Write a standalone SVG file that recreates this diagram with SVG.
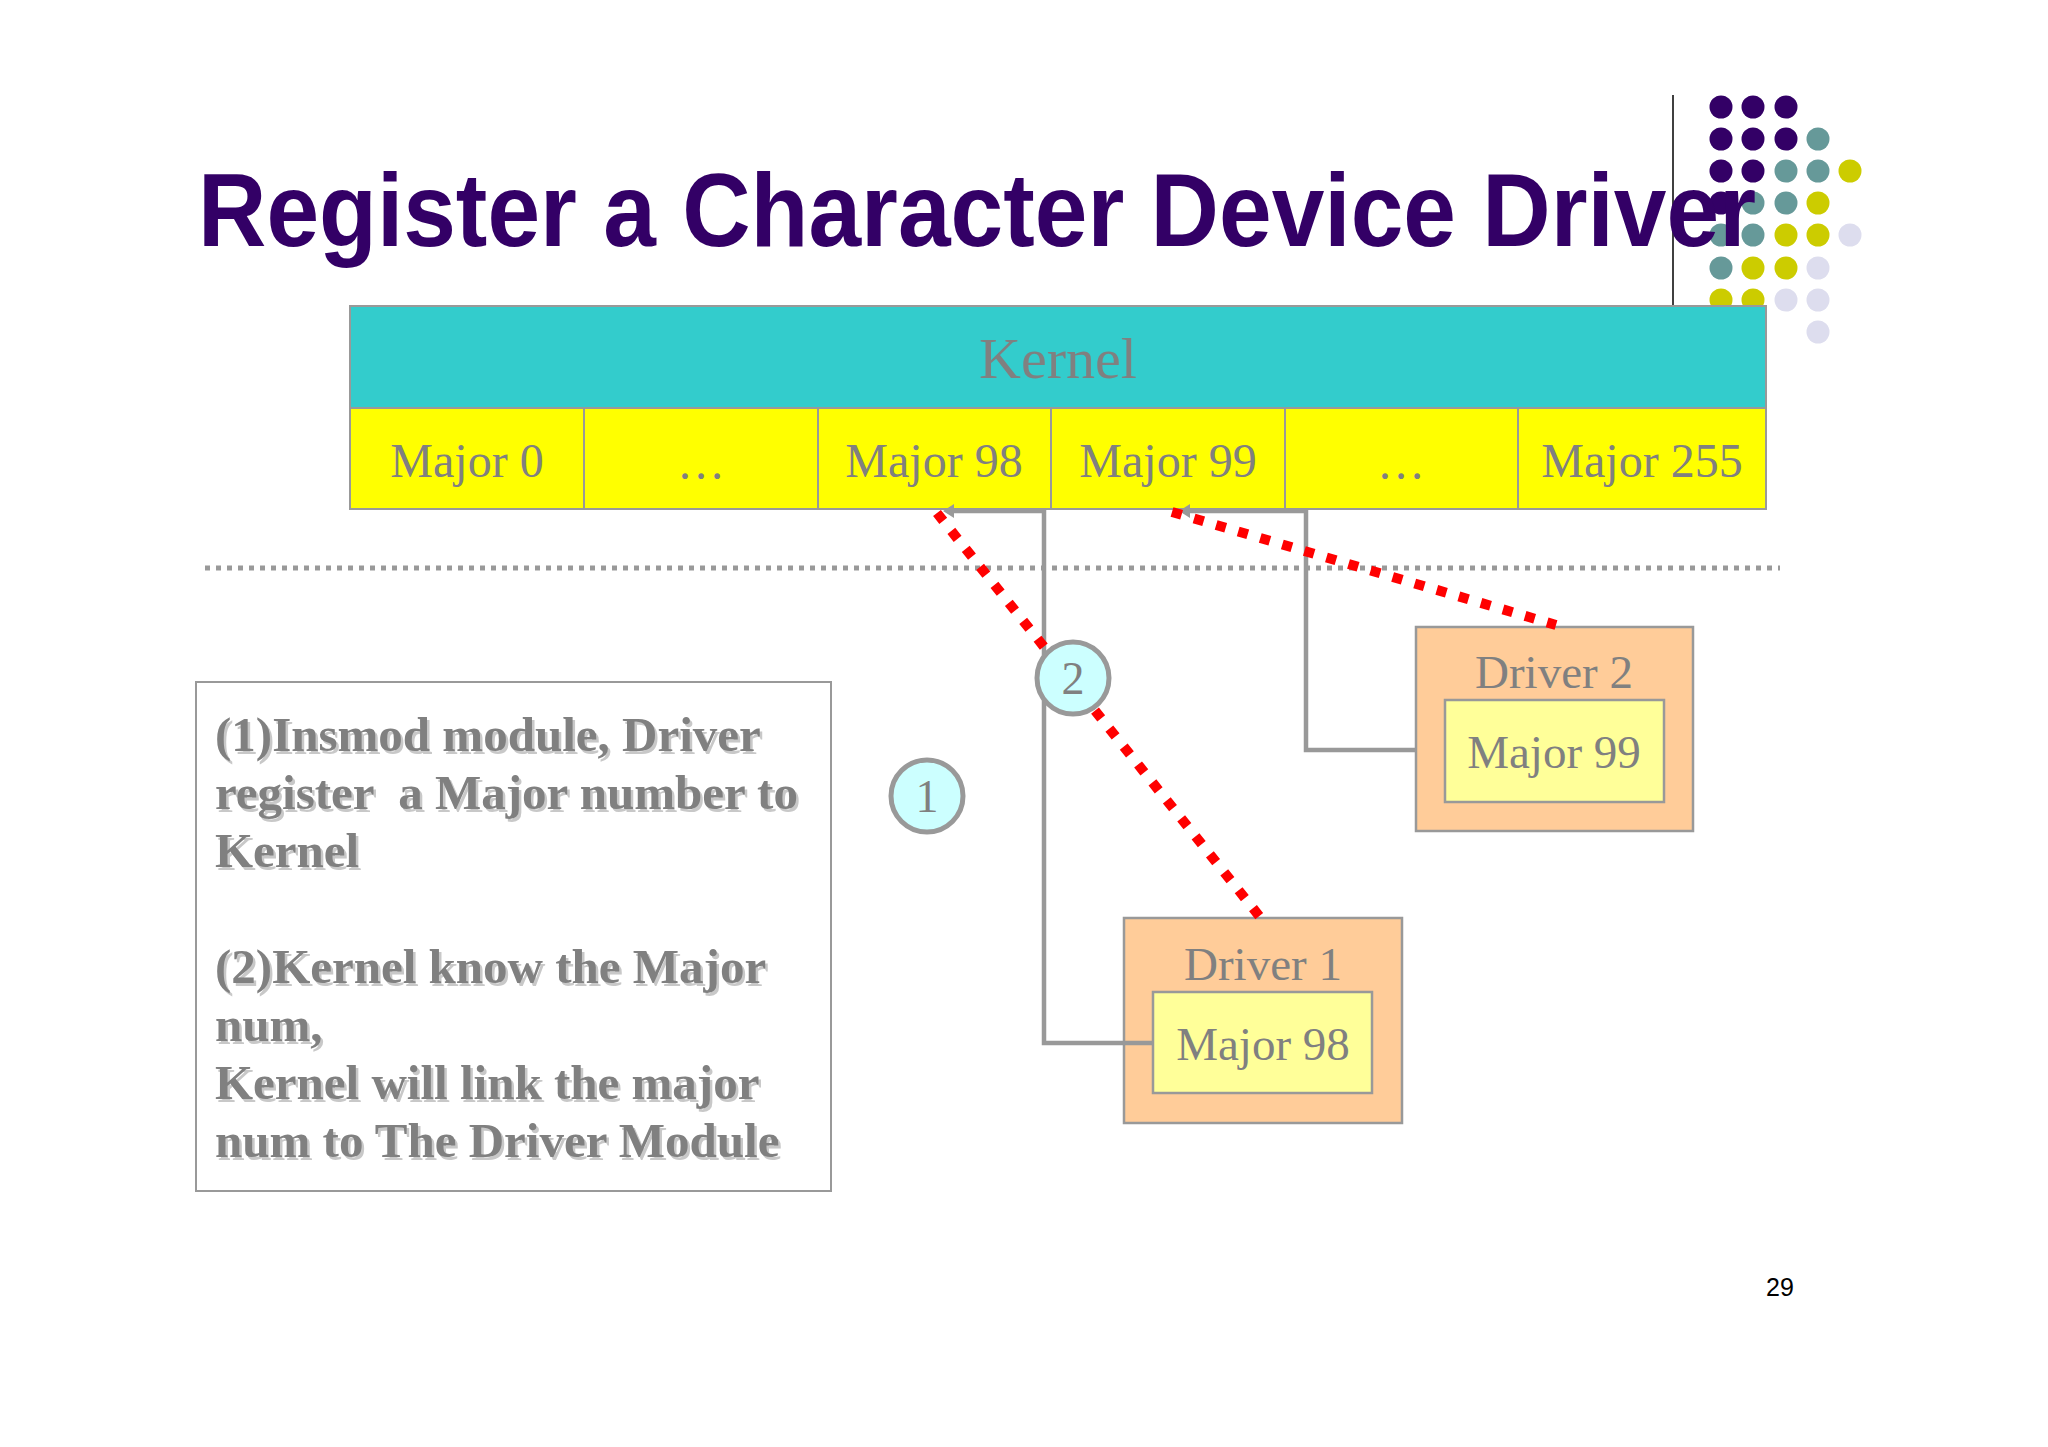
<svg xmlns="http://www.w3.org/2000/svg" width="2048" height="1447" viewBox="0 0 2048 1447">
<defs>
<style>
.pu{fill:#330066}.te{fill:#669999}.ye{fill:#CCCC00}.la{fill:#DDDDEE}
.cell{fill:#FFFF00;stroke:#999999;stroke-width:2}
.lbl{font-family:"Liberation Serif","Times New Roman",serif;fill:#808080;text-anchor:middle}
.drv{fill:#FFCC99;stroke:#999999;stroke-width:2.5}
.inner{fill:#FFFF99;stroke:#999999;stroke-width:2.5}
.gline{fill:none;stroke:#999999;stroke-width:4.5}
.red{fill:none;stroke:#FF0000;stroke-width:10;stroke-dasharray:10 13}
.circ{fill:#CCFFFF;stroke:#999999;stroke-width:5}
.note text{font-family:"Liberation Serif","Times New Roman",serif;font-weight:bold;font-size:49px;white-space:pre}
</style>
<marker id="arr" markerUnits="userSpaceOnUse" markerWidth="12" markerHeight="14" refX="6" refY="7" orient="auto">
<path d="M0,0 L11,7 L0,14 z" fill="#999999"/>
</marker>
</defs>
<rect width="2048" height="1447" fill="#FFFFFF"/>
<g id="decor-dots">
<circle class="pu" cx="1721" cy="107" r="11.5"/><circle class="pu" cx="1753" cy="107" r="11.5"/><circle class="pu" cx="1786" cy="107" r="11.5"/>
<circle class="pu" cx="1721" cy="139" r="11.5"/><circle class="pu" cx="1753" cy="139" r="11.5"/><circle class="pu" cx="1786" cy="139" r="11.5"/><circle class="te" cx="1818" cy="139" r="11.5"/>
<circle class="pu" cx="1721" cy="171" r="11.5"/><circle class="pu" cx="1753" cy="171" r="11.5"/><circle class="te" cx="1786" cy="171" r="11.5"/><circle class="te" cx="1818" cy="171" r="11.5"/><circle class="ye" cx="1850" cy="171" r="11.5"/>
<circle class="pu" cx="1721" cy="203" r="11.5"/><circle class="te" cx="1753" cy="203" r="11.5"/><circle class="te" cx="1786" cy="203" r="11.5"/><circle class="ye" cx="1818" cy="203" r="11.5"/>
<circle class="te" cx="1721" cy="235" r="11.5"/><circle class="te" cx="1753" cy="235" r="11.5"/><circle class="ye" cx="1786" cy="235" r="11.5"/><circle class="ye" cx="1818" cy="235" r="11.5"/><circle class="la" cx="1850" cy="235" r="11.5"/>
<circle class="te" cx="1721" cy="268" r="11.5"/><circle class="ye" cx="1753" cy="268" r="11.5"/><circle class="ye" cx="1786" cy="268" r="11.5"/><circle class="la" cx="1818" cy="268" r="11.5"/>
<circle class="ye" cx="1721" cy="300" r="11.5"/><circle class="ye" cx="1753" cy="300" r="11.5"/><circle class="la" cx="1786" cy="300" r="11.5"/><circle class="la" cx="1818" cy="300" r="11.5"/>
<circle class="la" cx="1818" cy="332" r="11.5"/>
</g>
<line x1="1673" y1="95" x2="1673" y2="305" stroke="#000000" stroke-width="1.5"/>
<g id="kernel">
<rect x="350" y="306" width="1416" height="102" fill="#33CCCC" stroke="#999999" stroke-width="2"/>
<text class="lbl" x="1058" y="378" font-size="58">Kernel</text>
</g>
<g id="major-row">
<rect class="cell" x="350" y="408" width="234" height="101"/>
<rect class="cell" x="584" y="408" width="234" height="101"/>
<rect class="cell" x="818" y="408" width="233" height="101"/>
<rect class="cell" x="1051" y="408" width="234" height="101"/>
<rect class="cell" x="1285" y="408" width="233" height="101"/>
<rect class="cell" x="1518" y="408" width="248" height="101"/>
<text class="lbl" x="467" y="477" font-size="48">Major 0</text>
<text class="lbl" x="701" y="479" font-size="48">…</text>
<text class="lbl" x="934" y="477" font-size="48">Major 98</text>
<text class="lbl" x="1168" y="477" font-size="48">Major 99</text>
<text class="lbl" x="1401" y="479" font-size="48">…</text>
<text class="lbl" x="1642" y="477" font-size="48">Major 255</text>
</g>
<line x1="205" y1="568" x2="1780" y2="568" stroke="#999999" stroke-width="5" stroke-dasharray="5 6"/>
<g id="note">
<rect x="196" y="682" width="635" height="509" fill="#FFFFFF" stroke="#999999" stroke-width="2"/>
<g class="note" fill="#C8C8C8" transform="translate(2.5,2.5)">
<text x="215" y="751">(1)Insmod module, Driver</text>
<text x="215" y="809" xml:space="preserve">register  a Major number to</text>
<text x="215" y="867">Kernel</text>
<text x="215" y="983">(2)Kernel know the Major</text>
<text x="215" y="1041">num,</text>
<text x="215" y="1099">Kernel will link the major</text>
<text x="215" y="1157">num to The Driver Module</text>
</g>
<g class="note" fill="#808080">
<text x="215" y="751">(1)Insmod module, Driver</text>
<text x="215" y="809" xml:space="preserve">register  a Major number to</text>
<text x="215" y="867">Kernel</text>
<text x="215" y="983">(2)Kernel know the Major</text>
<text x="215" y="1041">num,</text>
<text x="215" y="1099">Kernel will link the major</text>
<text x="215" y="1157">num to The Driver Module</text>
</g>
</g>
<g id="driver2">
<rect class="drv" x="1416" y="627" width="277" height="204"/>
<text class="lbl" x="1554" y="688" font-size="47">Driver 2</text>
<rect class="inner" x="1445" y="700" width="219" height="102"/>
<text class="lbl" x="1554" y="768" font-size="47">Major 99</text>
</g>
<g id="driver1">
<rect class="drv" x="1124" y="918" width="278" height="205"/>
<text class="lbl" x="1263" y="980" font-size="47">Driver 1</text>
<rect class="inner" x="1153" y="992" width="219" height="101"/>
<text class="lbl" x="1263" y="1060" font-size="47">Major 98</text>
</g>
<g id="connectors">
<path class="gline" d="M1153,1043 H1044 V511 H948" marker-end="url(#arr)"/>
<path class="gline" d="M1416,750 H1306 V511 H1184" marker-end="url(#arr)"/>
<line class="red" x1="937" y1="513" x2="1260" y2="917"/>
<line class="red" x1="1172" y1="512" x2="1556" y2="625"/>
</g>
<g id="step1">
<circle class="circ" cx="927" cy="796" r="36"/>
<text class="lbl" x="927" y="812" font-size="46">1</text>
</g>
<g id="step2">
<circle class="circ" cx="1073" cy="678" r="36"/>
<text class="lbl" x="1073" y="694" font-size="46">2</text>
</g>
<text x="198" y="246" font-family="'Liberation Sans',Arial,sans-serif" font-weight="bold" font-size="104" fill="#330066" textLength="1558" lengthAdjust="spacingAndGlyphs">Register a Character Device Driver</text>
<text x="1780" y="1296" font-family="'Liberation Sans',Arial,sans-serif" font-size="25" fill="#000000" text-anchor="middle">29</text>
</svg>
